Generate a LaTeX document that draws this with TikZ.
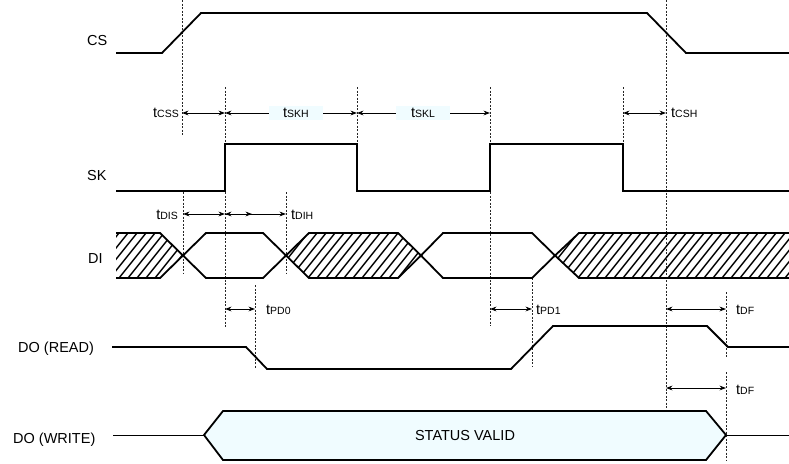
\documentclass[tikz,border=0pt]{standalone}
\usepackage{fontspec}
\setmainfont{Liberation Sans}
\usetikzlibrary{arrows.meta}
\definecolor{validfill}{RGB}{240,252,255}
\newcommand\tsub[1]{{\fontsize{10.5}{12}\selectfont #1}}
\begin{document}
\begin{tikzpicture}[x=1pt,y=-1pt,
  sig/.style={line width=1.8pt, line join=miter},
  thinsig/.style={line width=0.9pt},
  hatch/.style={line width=1.4pt},
  guide/.style={line width=0.75pt, black!85, dash pattern=on 2pt off 1.5pt},
  tip/.tip={Stealth[length=6.5pt,width=4.8pt]},
  dimboth/.style={line width=0.9pt, tip-tip},
  dimstart/.style={line width=0.9pt, tip-},
  dimend/.style={line width=0.9pt, -tip},
  siglbl/.style={font=\fontsize{14.5}{17}\selectfont, inner sep=0pt, anchor=base west},
  tlbl/.style={font=\fontsize{14.5}{17}\selectfont, inner sep=0pt},
  tbox/.style={tlbl, fill=validfill, minimum width=54pt, minimum height=14pt}
]
\useasboundingbox (0,0) rectangle (789,463);

% ---------- guide lines ----------
\draw[guide] (182,0) -- (182,135);
\draw[guide] (225,87) -- (225,327);
\draw[guide] (357,87) -- (357,144);
\draw[guide] (490,87) -- (490,326);
\draw[guide] (623,87) -- (623,144);
\draw[guide] (666,0) -- (666,410);
\draw[guide] (183,192) -- (183,273);
\draw[guide] (286,192) -- (286,273);
\draw[guide] (255,285) -- (255,368);
\draw[guide] (532,278) -- (532,367);
\draw[guide] (726,292) -- (726,358);
\draw[guide] (726,372) -- (726,460);

% ---------- signal labels ----------
\node[siglbl] (lcs) at (87,45) {CS};
\node[siglbl] (lsk) at (87,180) {SK};
\node[siglbl] (ldi) at (88,263) {DI};
\node[siglbl] (ldor) at (18,352.5) {DO (READ)};
\node[siglbl] (ldow) at (13,443) {DO (WRITE)};

% ---------- CS ----------
\draw[sig] (116,53) -- (162,53) -- (201,13) -- (647,13) -- (686,53) -- (789,53);

% ---------- SK ----------
\draw[sig] (116,191) -- (225,191) -- (225,144) -- (357,144) -- (357,191)
  -- (490,191) -- (490,144) -- (623,144) -- (623,191) -- (789,191);

% ---------- DI ----------
\begin{scope}
  \clip (116,233) -- (160,233) -- (183,255.5) -- (160,278) -- (116,278) -- cycle;
  \foreach \x in {70,79,...,200} \draw[hatch] (\x,283) -- ({\x+44},228);
\end{scope}
\draw[sig] (116,233) -- (160,233) -- (183,255.5) -- (160,278) -- (116,278);

\begin{scope}
  \clip (286,255.5) -- (309,233) -- (398,233) -- (421,255.5) -- (398,278) -- (309,278) -- cycle;
  \foreach \x in {250,259,...,430} \draw[hatch] (\x,283) -- ({\x+44},228);
\end{scope}
\draw[sig] (286,255.5) -- (309,233) -- (398,233) -- (421,255.5) -- (398,278) -- (309,278) -- cycle;

\begin{scope}
  \clip (555,255.5) -- (579,233) -- (789,233) -- (789,278) -- (579,278) -- cycle;
  \foreach \x in {520,529,...,800} \draw[hatch] (\x,283) -- ({\x+44},228);
\end{scope}
\draw[sig] (789,233) -- (579,233) -- (555,255.5) -- (579,278) -- (789,278);

\draw[sig] (183,255.5) -- (206,233) -- (263,233) -- (286,255.5) -- (263,278) -- (206,278) -- cycle;
\draw[sig] (421,255.5) -- (443,233) -- (532,233) -- (555,255.5) -- (532,278) -- (443,278) -- cycle;

% ---------- DO (READ) ----------
\draw[sig] (112,347) -- (246,347) -- (267,369) -- (511,369) -- (553,326)
  -- (707,326) -- (728,347) -- (789,347);

% ---------- DO (WRITE) ----------
\draw[thinsig] (113,435) -- (204,435);
\draw[sig, fill=validfill] (204,435) -- (223,411) -- (706,411) -- (726,435)
  -- (706,460) -- (223,460) -- cycle;
\draw[thinsig] (726,435) -- (789,435);
\node[tlbl] (status) at (465,435.5) {STATUS VALID};

% ---------- timing row 1 ----------
\coordinate (c182) at (182,113);
\coordinate (c225) at (225,113);
\coordinate (c357) at (357,113);
\coordinate (c490) at (490,113);
\coordinate (c623) at (623,113);
\coordinate (c666) at (666,113);
\node[tlbl, anchor=base east] (tcss) at (179,117.5) {t\tsub{CSS}};
\node[tbox] (tskh) at (296,113) {t\tsub{SKH}};
\node[tbox] (tskl) at (423,113) {t\tsub{SKL}};
\node[tlbl, anchor=base west] (tcsh) at (671,117.5) {t\tsub{CSH}};
\draw[dimboth] (c182) -- (c225);
\draw[dimstart] (c225) -- (tskh.west);
\draw[dimend] (tskh.east) -- (c357);
\draw[dimstart] (c357) -- (tskl.west);
\draw[dimend] (tskl.east) -- (c490);
\draw[dimboth] (c623) -- (c666);

% ---------- timing row 2 ----------
\coordinate (d183) at (183,214);
\coordinate (d225) at (225,214);
\coordinate (d252) at (252,214);
\coordinate (d286) at (286,214);
\node[tlbl, anchor=base east] (tdis) at (178,219) {t\tsub{DIS}};
\node[tlbl, anchor=base west] (tdih) at (291,219) {t\tsub{DIH}};
\draw[dimboth] (d183) -- (d225);
\draw[dimboth] (d225) -- (d286);
\draw[dimend] (d225) -- (d252);

% ---------- timing row 3 ----------
\coordinate (e225) at (225,309);
\coordinate (e255) at (255,309);
\coordinate (e490) at (490,309);
\coordinate (e532) at (532,309);
\coordinate (e666) at (666,309);
\coordinate (e726) at (726,309);
\node[tlbl, anchor=base west] (tpd0) at (266,314) {t\tsub{PD0}};
\node[tlbl, anchor=base west] (tpd1) at (536,314) {t\tsub{PD1}};
\node[tlbl, anchor=base west] (tdf1) at (736,314) {t\tsub{DF}};
\draw[dimboth] (e225) -- (e255);
\draw[dimboth] (e490) -- (e532);
\draw[dimboth] (e666) -- (e726);

% ---------- timing row 4 ----------
\coordinate (f666) at (666,388);
\coordinate (f726) at (726,388);
\node[tlbl, anchor=base west] (tdf2) at (736,394) {t\tsub{DF}};
\draw[dimboth] (f666) -- (f726);
\end{tikzpicture}
\end{document}
